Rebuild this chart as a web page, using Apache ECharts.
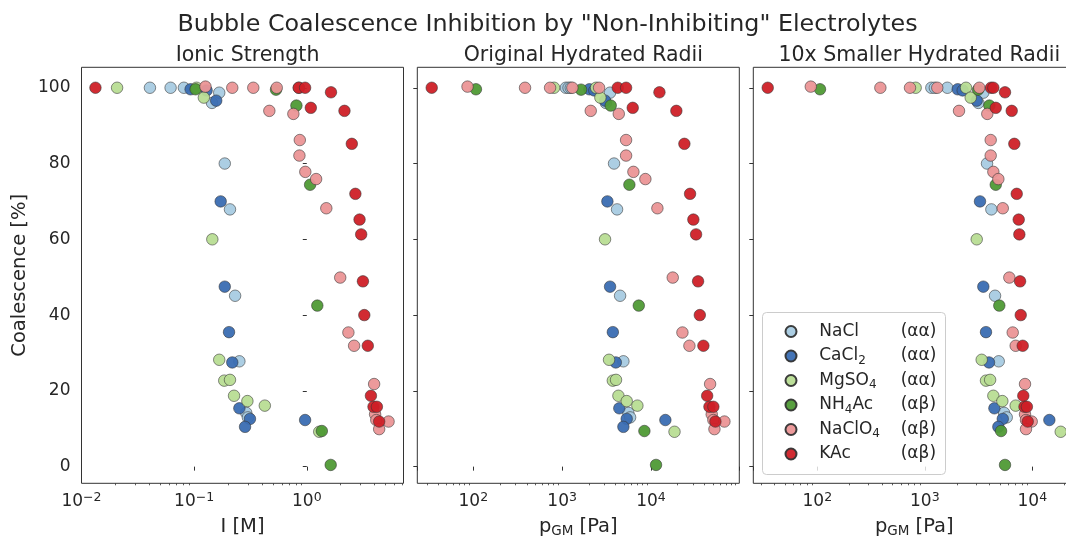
<!DOCTYPE html>
<html>
<head>
<meta charset="utf-8">
<title>Bubble Coalescence Inhibition</title>
<script src="https://cdn.jsdelivr.net/npm/echarts@6/dist/echarts.min.js"></script>
<style>
  html, body { margin: 0; padding: 0; background: #fff; }
  #graphMain { width: 1066px; height: 541px; }
</style>
</head>
<body>
<div id="graphMain"></div>
<script>
// salts in plotting order
const salts = ['NaCl', 'CaCl2', 'MgSO4', 'NH4Ac', 'NaClO4', 'KAc']
const saltLabels = ['NaCl', 'CaCl{s|2}', 'MgSO{s|4}', 'NH{s|4}Ac', 'NaClO{s|4}', 'KAc']
const pairing = ['(αα)', '(αα)', '(αα)', '(αβ)', '(αβ)', '(αβ)']
const yTicks = [0, 20, 40, 60, 80, 100]

// coalescence [%] and the x value of each measurement in the three panels
const naclCoal = [100, 100, 100, 98.7, 96.0, 80.0, 67.9, 45.1, 27.8, 14.2, 13.0]
const naclIonic = [0.0405, 0.0618, 0.0811, 0.167, 0.144, 0.187, 0.208, 0.231, 0.252, 0.29, 0.30]
const naclRadii = [1100, 1180, 1250, 3462, 3100, 3838, 4150, 4490, 4890, 5560, 5820]
const naclSmall = [1150, 1240, 1620, 3500, 3150, 3790, 4160, 4500, 4870, 5460, 5780]

const cacl2Coal = [99.6, 99.3, 96.6, 70.0, 47.5, 35.5, 27.5, 15.4, 12.6, 12.3, 10.5]
const cacl2Ionic = [0.093, 0.129, 0.157, 0.172, 0.187, 0.204, 0.218, 0.252, 0.313, 0.966, 0.283]
const cacl2Radii = [2025, 2300, 3040, 3230, 3462, 3720, 4017, 4400, 5330, 14520, 4890]
const cacl2Small = [2024, 2250, 3040, 3260, 3500, 3707, 3954, 4440, 5310, 14400, 4830]

const mgso4Coal = [100, 100, 97.4, 60.0, 28.2, 22.7, 22.9, 18.7, 17.3, 16.1, 9.2]
const mgso4Ionic = [0.0207, 0.105, 0.122, 0.145, 0.167, 0.185, 0.208, 0.226, 0.297, 0.424, 1.29]
const mgso4Radii = [811, 2411, 2693, 3040, 3370, 3720, 4040, 4300, 5330, 7030, 18400]
const mgso4Small = [822, 2417, 2673, 3040, 3380, 3707, 4050, 4340, 5260, 7000, 18370]

const nh4acCoal = [99.6, 99.5, 95.3, 74.4, 42.5, 9.4, 0.45]
const nh4acIonic = [0.103, 0.533, 0.809, 1.07, 1.24, 1.36, 1.63]
const nh4acRadii = [107, 1633, 3524, 5710, 7290, 8430, 11400]
const nh4acSmall = [106, 3130, 3985, 4570, 4930, 5120, 5570]

const naclo4Coal = [100.3, 100, 100, 100, 100, 93.9, 93.1, 86.2, 82.1, 77.8, 75.9, 68.2, 49.9, 35.4, 31.9, 21.8, 13.8, 12.3, 11.9, 9.9]
const naclo4Ionic = [0.126, 0.218, 0.335, 0.541, 0.85, 0.465, 0.76, 0.867, 0.86, 0.97, 1.21, 1.49, 1.98, 2.34, 2.63, 3.96, 4.04, 4.14, 5.32, 4.39]
const naclo4Radii = [86, 382, 731, 1303, 2605, 2098, 4340, 5244, 5244, 6340, 8650, 11810, 17580, 22600, 27070, 46300, 48300, 50400, 67100, 51800]
const naclo4Small = [87, 386, 728, 1306, 3214, 2080, 3812, 4100, 4100, 4340, 4830, 5310, 6110, 6570, 7000, 8550, 8550, 8730, 9870, 8730]

const kacCoal = [100, 100, 100, 98.8, 94.7, 93.9, 85.2, 72.0, 65.2, 61.3, 48.9, 40.0, 31.9, 18.7, 15.8, 15.8, 11.9]
const kacIonic = [0.0133, 0.849, 0.966, 1.64, 1.086, 2.16, 2.51, 2.70, 2.94, 3.04, 3.15, 3.24, 3.48, 3.71, 3.91, 4.19, 4.39]
const kacRadii = [34, 4227, 5244, 12450, 6230, 19300, 23770, 27540, 30000, 32180, 33900, 35460, 38900, 42900, 45500, 50400, 53100]
const kacSmall = [34.6, 4130, 4340, 5570, 4570, 6430, 6800, 7160, 7470, 7570, 7690, 7800, 8140, 8240, 8450, 8900, 9060]

// axis limits of the three panels
const ionicRange = [0.01, 7.22]
const radiiRange = [23.4, 98700]
const smallRange = [25.4, 25100]

const colors = ['#a8cbe2', '#3a6db2', '#b8dd94', '#4f9a35', '#eb9596', '#cf2027']
const FONT = 'DejaVu Sans'
const INK = '#262626'

const coal = [naclCoal, cacl2Coal, mgso4Coal, nh4acCoal, naclo4Coal, kacCoal]
const panels = [
  { title: 'Ionic Strength', xName: 'I [M]', range: ionicRange, x: [naclIonic, cacl2Ionic, mgso4Ionic, nh4acIonic, naclo4Ionic, kacIonic] },
  { title: 'Original Hydrated Radii', xName: 'p{s|GM} [Pa]', range: radiiRange, x: [naclRadii, cacl2Radii, mgso4Radii, nh4acRadii, naclo4Radii, kacRadii] },
  { title: '10x Smaller Hydrated Radii', xName: 'p{s|GM} [Pa]', range: smallRange, x: [naclSmall, cacl2Small, mgso4Small, nh4acSmall, naclo4Small, kacSmall] }
]
const gridLeft = [81.5, 417.3, 753.3]
const gridTop = 67.3
const gridW = 322
const gridH = 416

function powLabel (v) {
  const e = Math.log10(v)
  const r = Math.round(e)
  if (Math.abs(e - r) > 1e-6) return ''
  return '10{sup|' + (r < 0 ? '\u2212' + (-r) : r) + '}'
}

// log10 positions of the 2..9 minor ticks inside a range
function minorTicks (range) {
  const out = []
  const lo = Math.log10(range[0])
  const hi = Math.log10(range[1])
  for (let d = Math.floor(lo); d <= Math.ceil(hi); d++) {
    for (let k = 2; k <= 9; k++) {
      const v = d + Math.log10(k)
      if (v > lo && v < hi) out.push(v)
    }
  }
  return out
}

const grid = []
const xAxis = []
const yAxis = []
const series = []
const title = [{
  text: 'Bubble Coalescence Inhibition by "Non-Inhibiting" Electrolytes',
  left: 542.5,
  textAlign: 'center',
  top: 8,
  textStyle: { fontFamily: FONT, fontSize: 23.8, lineHeight: 24, fontWeight: 'normal', color: INK }
}]

panels.forEach(function (p, i) {
  grid.push({
    left: gridLeft[i], top: gridTop, width: gridW, height: gridH,
    show: true, borderColor: '#333', borderWidth: 1, backgroundColor: 'transparent',
    outerBoundsMode: 'none'
  })
  title.push({
    text: p.title,
    left: gridLeft[i] + gridW / 2,
    textAlign: 'center',
    top: 40,
    textStyle: { fontFamily: FONT, fontSize: 20.5, lineHeight: 21, fontWeight: 'normal', color: INK }
  })
  // main log axis: labels and major ticks
  xAxis.push({
    type: 'log',
    logBase: 10,
    gridIndex: i,
    min: p.range[0],
    max: p.range[1],
    position: 'bottom',
    name: p.xName,
    nameLocation: 'middle',
    nameGap: 33,
    nameTextStyle: {
      fontFamily: FONT, fontSize: 19.5, lineHeight: 22, color: INK,
      rich: { s: { fontFamily: FONT, fontSize: 13.5, lineHeight: 14, verticalAlign: 'bottom', color: INK } }
    },
    axisLine: { show: false },
    axisTick: { show: true, length: 4, lineStyle: { color: '#333', width: 1 } },
    axisLabel: {
      formatter: powLabel,
      margin: 8,
      fontFamily: FONT, fontSize: 17, lineHeight: 20, color: INK,
      rich: { sup: { fontFamily: FONT, fontSize: 12.5, lineHeight: 12, verticalAlign: 'top', color: INK } }
    },
    splitLine: { show: false }
  })
  // helper axis in log10 units, only for the 2..9 minor ticks
  xAxis.push({
    type: 'value',
    gridIndex: i,
    min: Math.log10(p.range[0]),
    max: Math.log10(p.range[1]),
    position: 'bottom',
    axisLine: { show: false },
    axisLabel: { show: false },
    axisTick: { show: true, length: 2, customValues: minorTicks(p.range), lineStyle: { color: '#333', width: 0.8 } },
    splitLine: { show: false }
  })
  yAxis.push({
    type: 'value',
    gridIndex: i,
    min: -4.4,
    max: 105.4,
    name: i === 0 ? 'Coalescence [%]' : '',
    nameLocation: 'middle',
    nameGap: 52,
    nameTextStyle: { fontFamily: FONT, fontSize: 19.5, color: INK },
    axisLine: { show: false },
    axisTick: { show: true, length: 4, customValues: yTicks, lineStyle: { color: '#333', width: 1 } },
    axisLabel: { show: i === 0, customValues: yTicks, margin: 11, fontFamily: FONT, fontSize: 17, color: INK },
    splitLine: { show: false }
  })
  salts.forEach(function (name, s) {
    series.push({
      type: 'scatter',
      name: name,
      xAxisIndex: i * 2,
      yAxisIndex: i,
      symbol: 'circle',
      symbolSize: 11.5,
      itemStyle: { color: colors[s], opacity: 0.95, borderColor: '#333', borderWidth: 0.6 },
      emphasis: { disabled: true },
      data: p.x[s].map(function (x, k) { return [x, coal[s][k]] })
    })
  })
})

const legendText = {
  fontFamily: FONT, fontSize: 17, lineHeight: 21, color: INK,
  rich: { s: { fontFamily: FONT, fontSize: 12, lineHeight: 12, verticalAlign: 'bottom', color: INK } }
}

const myGraph = echarts.init(document.getElementById('graphMain'))
myGraph.setOption({
  animation: false,
  title: title,
  grid: grid,
  xAxis: xAxis,
  yAxis: yAxis,
  series: series,
  legend: [{
    data: salts,
    orient: 'vertical',
    left: 784.5,
    top: 321,
    padding: 0,
    itemWidth: 30.5,
    itemHeight: 11,
    itemGap: 3.5,
    icon: 'circle',
    formatter: function (n) { return saltLabels[salts.indexOf(n)] },
    textStyle: Object.assign({ padding: [0, 0, 0, 8] }, legendText)
  }, {
    data: salts,
    orient: 'vertical',
    left: 895.7,
    top: 321,
    padding: 0,
    itemWidth: 0,
    itemHeight: 11,
    itemGap: 3.5,
    icon: 'none',
    formatter: function (n) { return pairing[salts.indexOf(n)] },
    textStyle: legendText
  }],
  graphic: [{
    type: 'rect',
    z: 3,
    shape: { x: 762.5, y: 312.5, width: 183, height: 162, r: 4 },
    style: { fill: 'rgba(255,255,255,0.8)', stroke: '#cccccc', lineWidth: 1 }
  }]
})
</script>
</body>
</html>
